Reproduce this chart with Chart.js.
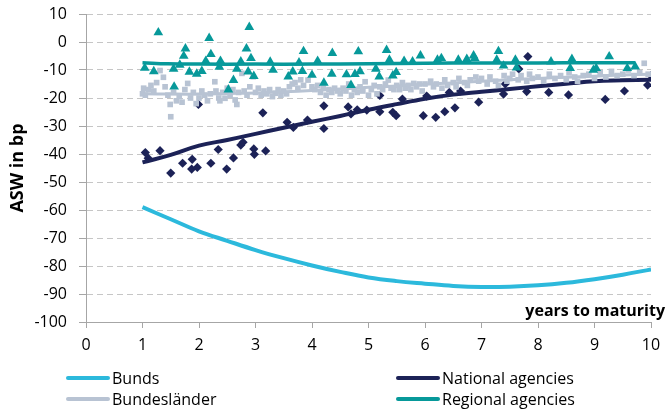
<!DOCTYPE html>
<html>
<head>
<meta charset="utf-8">
<script src="https://cdn.jsdelivr.net/npm/chart.js@4/dist/chart.umd.min.js"></script>
<style>
    html, body { margin: 0; padding: 0; background: #fff; }
    #wrap { position: relative; width: 669px; height: 417px; }
    #legend { position: absolute; left: 0; top: 0; width: 669px; height: 417px; pointer-events: none;
              font-family: "Open Sans", sans-serif; font-size: 16px; color: #000; }
    .item { position: absolute; display: flex; align-items: center; white-space: nowrap; }
    .swatch { width: 44px; height: 4px; border-radius: 2px; margin-right: 2px; }
</style>
</head>
<body>
<div id="wrap">
    <canvas id="aswChart" width="669" height="417"></canvas>
    <div id="legend"></div>
</div>
<script>
// --- Data ---
const yTicks = [10, 0, -10, -20, -30, -40, -50, -60, -70, -80, -90, -100];
const xTicks = [0, 1, 2, 3, 4, 5, 6, 7, 8, 9, 10];

const seriesNames = ["Bunds", "National agencies", "Bundesländer", "Regional agencies"];
const seriesColors = ["#2cb9dc", "#1c2257", "#b8c3d3", "#07999a"];

// fitted curves, sampled every half year
const curveYears    = [1, 1.5, 2, 2.5, 3, 3.5, 4, 4.5, 5, 5.5, 6, 6.5, 7, 7.5, 8, 8.5, 9, 9.5, 10];
const bundsCurve    = [-59, -63.3, -67.6, -71, -74.3, -77.2, -79.8, -82.1, -84.1, -85.4, -86.3, -87.1, -87.5, -87.4, -86.9, -86, -84.7, -83.1, -81.2];
const nationalCurve = [-43, -40.3, -37, -35, -32.8, -30.6, -28.5, -26.4, -24.2, -22.2, -20.3, -18.8, -17.8, -16.8, -15.8, -14.9, -14, -13.7, -13.5];
const laenderCurve  = [-18.5, -18.6, -18.6, -18.4, -18.2, -17.8, -17.3, -16.8, -16.2, -15.7, -15.1, -14.6, -14, -13.5, -13, -12.6, -12.2, -11.8, -11.5];

const regionalLineYears = [1, 1.45, 2, 3, 4, 5, 6, 7, 8, 9, 9.72];
const regionalLine      = [-7.4, -7.8, -7.9, -7.9, -7.9, -7.8, -7.6, -7.5, -7.5, -7.4, -7.4];

// individual bonds: [years to maturity, ASW]
const nationalPoints = [
    [1.05, -39.5], [1.1, -41.5], [1.31, -38.8], [1.5, -46.8], [1.71, -43.3], [1.88, -41.9], [1.87, -45.4],
    [1.97, -44.8], [1.99, -22.3], [2.21, -43.3], [2.34, -38.4], [2.49, -45.4], [2.61, -41.4], [2.74, -36.8],
    [2.78, -35.8], [2.97, -38.2], [2.98, -40.1], [3.13, -25.3], [3.18, -38.9], [3.56, -28.7], [3.67, -30.5],
    [3.92, -27.9], [4.21, -22.8], [4.21, -30.9], [4.64, -23.2], [4.69, -25.7], [4.8, -24.2], [4.97, -24.3],
    [5.2, -19.1], [5.2, -24.9], [5.43, -25.1], [5.49, -26.3], [5.6, -20.4], [5.97, -26.3], [6.03, -19.3],
    [6.19, -26.9], [6.35, -24.9], [6.43, -18], [6.53, -23.5], [6.63, -17.5], [6.95, -21.5], [7.39, -18.6],
    [7.42, -15], [7.66, -9.6], [7.82, -5.2], [7.8, -17.7], [8.19, -18], [8.54, -18.9], [9.19, -20.5],
    [9.53, -17.5], [9.94, -15.4], [10, -12]
];

const laenderPoints = [
    [1.0, -18.5], [1.02, -16.5], [1.05, -19], [1.1, -17], [1.15, -15.5], [1.2, -17.5], [1.25, -14.5], [1.31, -10.2],
    [1.37, -12.6], [1.4, -16], [1.45, -19], [1.49, -22.3], [1.5, -26.7], [1.55, -18], [1.6, -21], [1.65, -19.5],
    [1.7, -21.5], [1.75, -17], [1.8, -14.8], [1.85, -20], [1.9, -18], [1.95, -22], [2.0, -20], [2.05, -17.5],
    [2.1, -19], [2.15, -21], [2.2, -18.5], [2.28, -14.2], [2.3, -17.5], [2.35, -20], [2.37, -21], [2.42, -18],
    [2.46, -20.1], [2.5, -16.5], [2.55, -19], [2.6, -17], [2.64, -20.7], [2.67, -22.3], [2.7, -18], [2.76, -11.2],
    [2.8, -17.5], [2.85, -19], [2.9, -16], [2.96, -12.4], [3.0, -18], [3.05, -16.5], [3.1, -19], [3.15, -17.5],
    [3.2, -18.5], [3.25, -17], [3.3, -19.5], [3.35, -18.3], [3.4, -17], [3.45, -19], [3.5, -17.5], [3.55, -18.5],
    [3.6, -16], [3.65, -15], [3.7, -14.5], [3.75, -16.5], [3.8, -13.5], [3.85, -15.5], [3.93, -13.6], [4.0, -16],
    [4.05, -17], [4.1, -15.5], [4.15, -18], [4.2, -16.5], [4.25, -19], [4.3, -17], [4.35, -18], [4.4, -16.5],
    [4.45, -17.5], [4.5, -18.5], [4.55, -16.5], [4.6, -17.5], [4.65, -15], [4.7, -19], [4.75, -17], [4.8, -18],
    [4.85, -16], [4.9, -17.5], [4.94, -14.2], [5.0, -19], [5.05, -17], [5.1, -15.5], [5.15, -18.5], [5.2, -16],
    [5.25, -17], [5.3, -15], [5.35, -13.6], [5.4, -16.5], [5.45, -17], [5.5, -15.5], [5.55, -17], [5.6, -14.5],
    [5.65, -16.5], [5.7, -15.5], [5.75, -17], [5.8, -14.8], [5.85, -16], [5.9, -15], [5.95, -17.5], [6.0, -15],
    [6.1, -14], [6.15, -16], [6.2, -15], [6.3, -16.5], [6.35, -13.5], [6.4, -15.5], [6.5, -14.5], [6.55, -16],
    [6.6, -13], [6.7, -14.5], [6.75, -15.5], [6.8, -13.5], [6.9, -12.5], [6.95, -14], [7.0, -13], [7.1, -15],
    [7.15, -12.5], [7.25, -14], [7.3, -15.5], [7.4, -12], [7.45, -14], [7.5, -13], [7.55, -11.5], [7.65, -13.5],
    [7.7, -12], [7.8, -14], [7.85, -11.5], [7.9, -13], [8.0, -12.5], [8.1, -14], [8.2, -11.5], [8.3, -13],
    [8.4, -12], [8.5, -13.5], [8.55, -11], [8.65, -12.5], [8.7, -14], [8.8, -12], [8.9, -11.5], [9.0, -13],
    [9.1, -11], [9.2, -12.5], [9.3, -10.5], [9.4, -12], [9.5, -11.5], [9.6, -10], [9.7, -12], [9.8, -11],
    [9.88, -7.6], [9.95, -11.5]
];

const regionalPoints = [
    [1.04, -9.3], [1.2, -10.5], [1.28, 3.4], [1.55, -9.6], [1.56, -16], [1.66, -8.2], [1.73, -5], [1.76, -2.4],
    [1.83, -10.7], [1.96, -11.4], [2.05, -10.4], [2.12, -6.8], [2.18, 1.4], [2.21, -4.4], [2.36, -8.9], [2.38, -6.8],
    [2.52, -17], [2.61, -13.6], [2.67, -9.6], [2.74, -7], [2.84, -2.4], [2.87, -10.6], [2.89, 5.3], [2.92, -5.8],
    [2.97, -12.2], [3.26, -7.1], [3.31, -10], [3.58, -12.4], [3.66, -10.6], [3.77, -7.4], [3.83, -10.4], [3.85, -3.3],
    [4.0, -11.8], [4.1, -6.8], [4.21, -14.6], [4.36, -4], [4.35, -11.4], [4.61, -11.6], [4.69, -15.4], [4.76, -11.5],
    [4.82, -3.4], [4.85, -10.5], [5.13, -9.6], [5.19, -12.4], [5.32, -2.9], [5.37, -6.4], [5.43, -12], [5.49, -10.8],
    [5.63, -6.8], [5.78, -7], [5.92, -4.9], [6.22, -6.4], [6.29, -5.8], [6.59, -6.4], [6.74, -6.1], [6.86, -4.9],
    [6.88, -5.8], [7.27, -6.4], [7.3, -3.3], [7.39, -8.5], [7.6, -6.4], [7.62, -9.2], [8.23, -7], [8.57, -9.4],
    [8.6, -6.1], [8.98, -10], [9.03, -9.4], [9.26, -5.2], [9.58, -9.4], [9.72, -8.8]
];

// --- Helpers ---
function toXY(xs, ys) {
    return xs.map((x, i) => ({ x: x, y: ys[i] }));
}
function pairs(list) {
    return list.map(p => ({ x: p[0], y: p[1] }));
}
function lineSet(label, data, color, width) {
    return { label: label, data: data, showLine: true, borderColor: color, backgroundColor: color,
             borderWidth: width, pointRadius: 0, tension: 0.4, fill: false };
}
function dotSet(label, data, color, style, radius) {
    return { label: label, data: data, showLine: false, pointStyle: style, pointRadius: radius,
             pointBackgroundColor: color, pointBorderColor: color, pointBorderWidth: 0 };
}

// text on the chart area: "years to maturity"
const axisNote = {
    id: "axisNote",
    afterDraw(chart) {
        const ctx = chart.ctx;
        const area = chart.chartArea;
        ctx.save();
        ctx.font = "bold 16px 'Open Sans', sans-serif";
        ctx.fillStyle = "#000";
        ctx.textAlign = "right";
        ctx.textBaseline = "alphabetic";
        ctx.fillText("years to maturity", area.right + 14, area.bottom - 6);
        ctx.restore();
    }
};

const ctx = document.getElementById("aswChart").getContext("2d");
const tickFont = { family: "'Open Sans', sans-serif", size: 16 };

new Chart(ctx, {
    type: "scatter",
    data: {
        datasets: [
            lineSet(seriesNames[0], toXY(curveYears, bundsCurve), seriesColors[0], 4),
            lineSet(seriesNames[3], toXY(regionalLineYears, regionalLine), seriesColors[3], 3.5),
            dotSet(seriesNames[3] + " bonds", pairs(regionalPoints), seriesColors[3], "triangle", 5.6),
            lineSet(seriesNames[2], toXY(curveYears, laenderCurve), seriesColors[2], 3),
            dotSet(seriesNames[2] + " bonds", pairs(laenderPoints), seriesColors[2], "rect", 4),
            lineSet(seriesNames[1], toXY(curveYears, nationalCurve), seriesColors[1], 4),
            dotSet(seriesNames[1] + " bonds", pairs(nationalPoints), seriesColors[1], "rectRot", 4.6)
        ]
    },
    options: {
        responsive: false,
        animation: false,
        layout: { padding: { left: 0, right: 18, top: 14, bottom: 0 } },
        plugins: { legend: { display: false }, tooltip: { enabled: false } },
        scales: {
            x: {
                type: "linear",
                min: 0,
                max: 10,
                afterBuildTicks: axis => { axis.ticks = xTicks.map(v => ({ value: v })); },
                afterFit: axis => { axis.height = 95; },
                ticks: { font: tickFont, color: "#000", padding: 8, maxRotation: 0 },
                grid: { drawOnChartArea: false, drawTicks: true, tickLength: 6, color: "#a6a6a6" },
                border: { color: "#a6a6a6", width: 1 }
            },
            y: {
                min: -100,
                max: 10,
                afterBuildTicks: axis => { axis.ticks = yTicks.map(v => ({ value: v })); },
                afterFit: axis => { axis.width = 86; axis.paddingTop = 0; axis.paddingBottom = 0; },
                ticks: { font: tickFont, color: "#000", padding: 12 },
                grid: { color: "#c6c6c6", lineWidth: 1, tickLength: 7, tickColor: "#a6a6a6", tickBorderDash: [] },
                border: { color: "#a6a6a6", width: 1, dash: [6, 4] },
                title: {
                    display: true,
                    text: "ASW in bp",
                    font: { family: "'Open Sans', sans-serif", size: 18, weight: "bold" },
                    color: "#000",
                    padding: { top: 7, bottom: 0 }
                }
            }
        }
    },
    plugins: [axisNote]
});

// --- Legend (two columns, line series only) ---
const legendSpots = [
    { left: 66, top: 367 }, { left: 396, top: 367 },
    { left: 66, top: 388 }, { left: 396, top: 388 }
];
const legendBox = document.getElementById("legend");
seriesNames.forEach((name, i) => {
    const item = document.createElement("div");
    item.className = "item";
    item.style.left = legendSpots[i].left + "px";
    item.style.top = legendSpots[i].top + "px";
    item.innerHTML = '<span class="swatch" style="background:' + seriesColors[i] + '"></span>' + name;
    legendBox.appendChild(item);
});
</script>
</body>
</html>
